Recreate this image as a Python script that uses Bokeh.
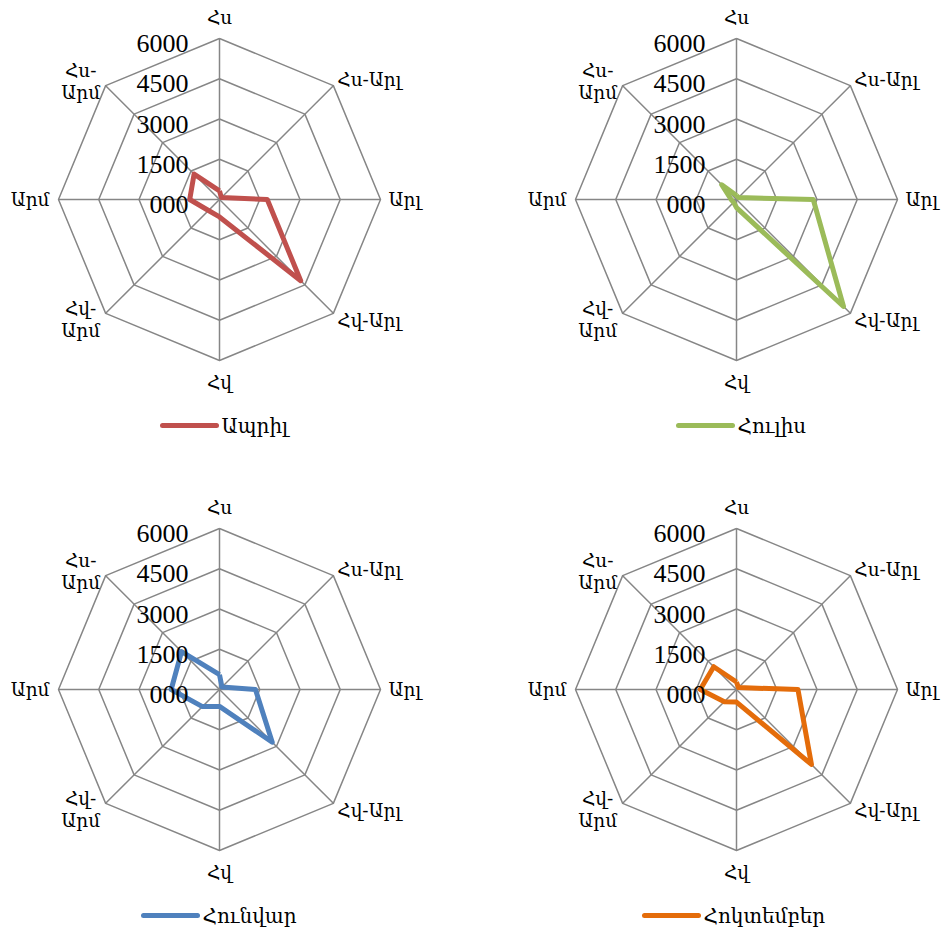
import numpy as np
from bokeh.plotting import figure
from bokeh.layouts import column, row
from bokeh.embed import file_html
from bokeh.resources import INLINE
from bokeh.core.properties import value

# ---- data ----
directions = ["Հս", "Հս-Արլ", "Արլ", "Հվ-Արլ", "Հվ", "Հվ-Արմ", "Արմ", "Հս-Արմ"]
tick_values = [0, 1500, 3000, 4500, 6000]
tick_labels = ["000", "1500", "3000", "4500", "6000"]
months = ["Ապրիլ", "Հուլիս", "Հունվար", "Հոկտեմբեր"]
april = [320, 100, 1780, 4280, 650, 580, 1110, 1340]
july = [150, 100, 2860, 5640, 300, 150, 200, 780]
january = [550, 130, 1340, 2780, 630, 900, 1800, 2000]
october = [280, 100, 2290, 3950, 470, 640, 1350, 1200]
colors = ["#C0504D", "#9BBB59", "#4F81BD", "#E46C0A"]

# ---- layout constants ----
R_PX = 161.0
RMAX = tick_values[-1]
K = RMAX / R_PX          # data units per pixel
CX, CY = 219, 199        # centre of the radar inside each figure (px from top-left)
GRID = "#868686"
CAT_FONT = value("DejaVu Serif")
TICK_FONT = value("Liberation Serif")


def radar(vals, name, color, width, height, legend_dx):
    p = figure(width=width, height=height,
               x_range=(-CX * K, (width - CX) * K),
               y_range=(-(height - CY) * K, CY * K),
               output_backend="svg", toolbar_location=None,
               x_axis_type=None, y_axis_type=None, min_border=0)
    p.grid.visible = False
    p.outline_line_color = None

    n = len(directions)
    ang = np.pi / 2 - np.arange(n) * 2 * np.pi / n
    ca, sa = np.cos(ang), np.sin(ang)

    # rings
    for t in tick_values[1:]:
        p.line(list(t * ca) + [t * ca[0]], list(t * sa) + [t * sa[0]],
               line_color=GRID, line_width=1.5)
    # spokes
    p.segment(x0=[0] * n, y0=[0] * n, x1=list(RMAX * ca), y1=list(RMAX * sa),
              line_color=GRID, line_width=1.5)

    # series
    v = np.array(vals, dtype=float)
    xs = list(v * ca) + [v[0] * ca[0]]
    ys = list(v * sa) + [v[0] * sa[0]]
    p.line(xs, ys, line_color=color, line_width=5, line_join="round")

    # radial tick labels
    p.text(x=[-31 * K] * len(tick_values), y=[t - 5 * K for t in tick_values],
           text=tick_labels, text_font=TICK_FONT, text_font_size="26px",
           text_align="right", text_baseline="middle", text_color="black")

    # category labels (offsets in px from each outer vertex)
    vx, vy = RMAX * ca, RMAX * sa
    specs = [  # (dx, dy, align)  dy positive = up
        (0, 21, "center"),
        (4, 6, "left"),
        (8, 0, "left"),
        (4, -7, "left"),
        (0, -22, "center"),
        (-25, None, "center"),
        (-9, 0, "right"),
        (-25, None, "center"),
    ]
    fs = "18.5px"
    for i, lab in enumerate(directions):
        dx, dy, al = specs[i]
        if dy is None:
            parts = lab.split("-")
            lines = [parts[0] + "-", parts[1]]
            base = 4 if i == 7 else -6
            yy = [base + 11, base - 11]
            for ln, yo in zip(lines, yy):
                p.text(x=[vx[i] + dx * K], y=[vy[i] + yo * K], text=[ln],
                       text_font=CAT_FONT, text_font_size=fs,
                       text_align=al, text_baseline="middle", text_color="black")
        else:
            p.text(x=[vx[i] + dx * K], y=[vy[i] + dy * K], text=[lab],
                   text_font=CAT_FONT, text_font_size=fs,
                   text_align=al, text_baseline="middle", text_color="black")

    # legend
    ly = -226 * K
    p.line([legend_dx * K, (legend_dx + 54) * K], [ly, ly],
           line_color=color, line_width=5, line_cap="round")
    p.text(x=[(legend_dx + 59) * K], y=[ly], text=[name], text_font=CAT_FONT,
           text_font_size="20px", text_align="left", text_baseline="middle",
           text_color="black")
    return p


p1 = radar(april, months[0], colors[0], 517, 490, -57)
p2 = radar(july, months[1], colors[1], 424, 490, -58)
p3 = radar(january, months[2], colors[2], 517, 440, -76)
p4 = radar(october, months[3], colors[3], 424, 440, -92)

layout = column(row(p1, p2), row(p3, p4))
open("out.html", "w").write(file_html(layout, INLINE))
